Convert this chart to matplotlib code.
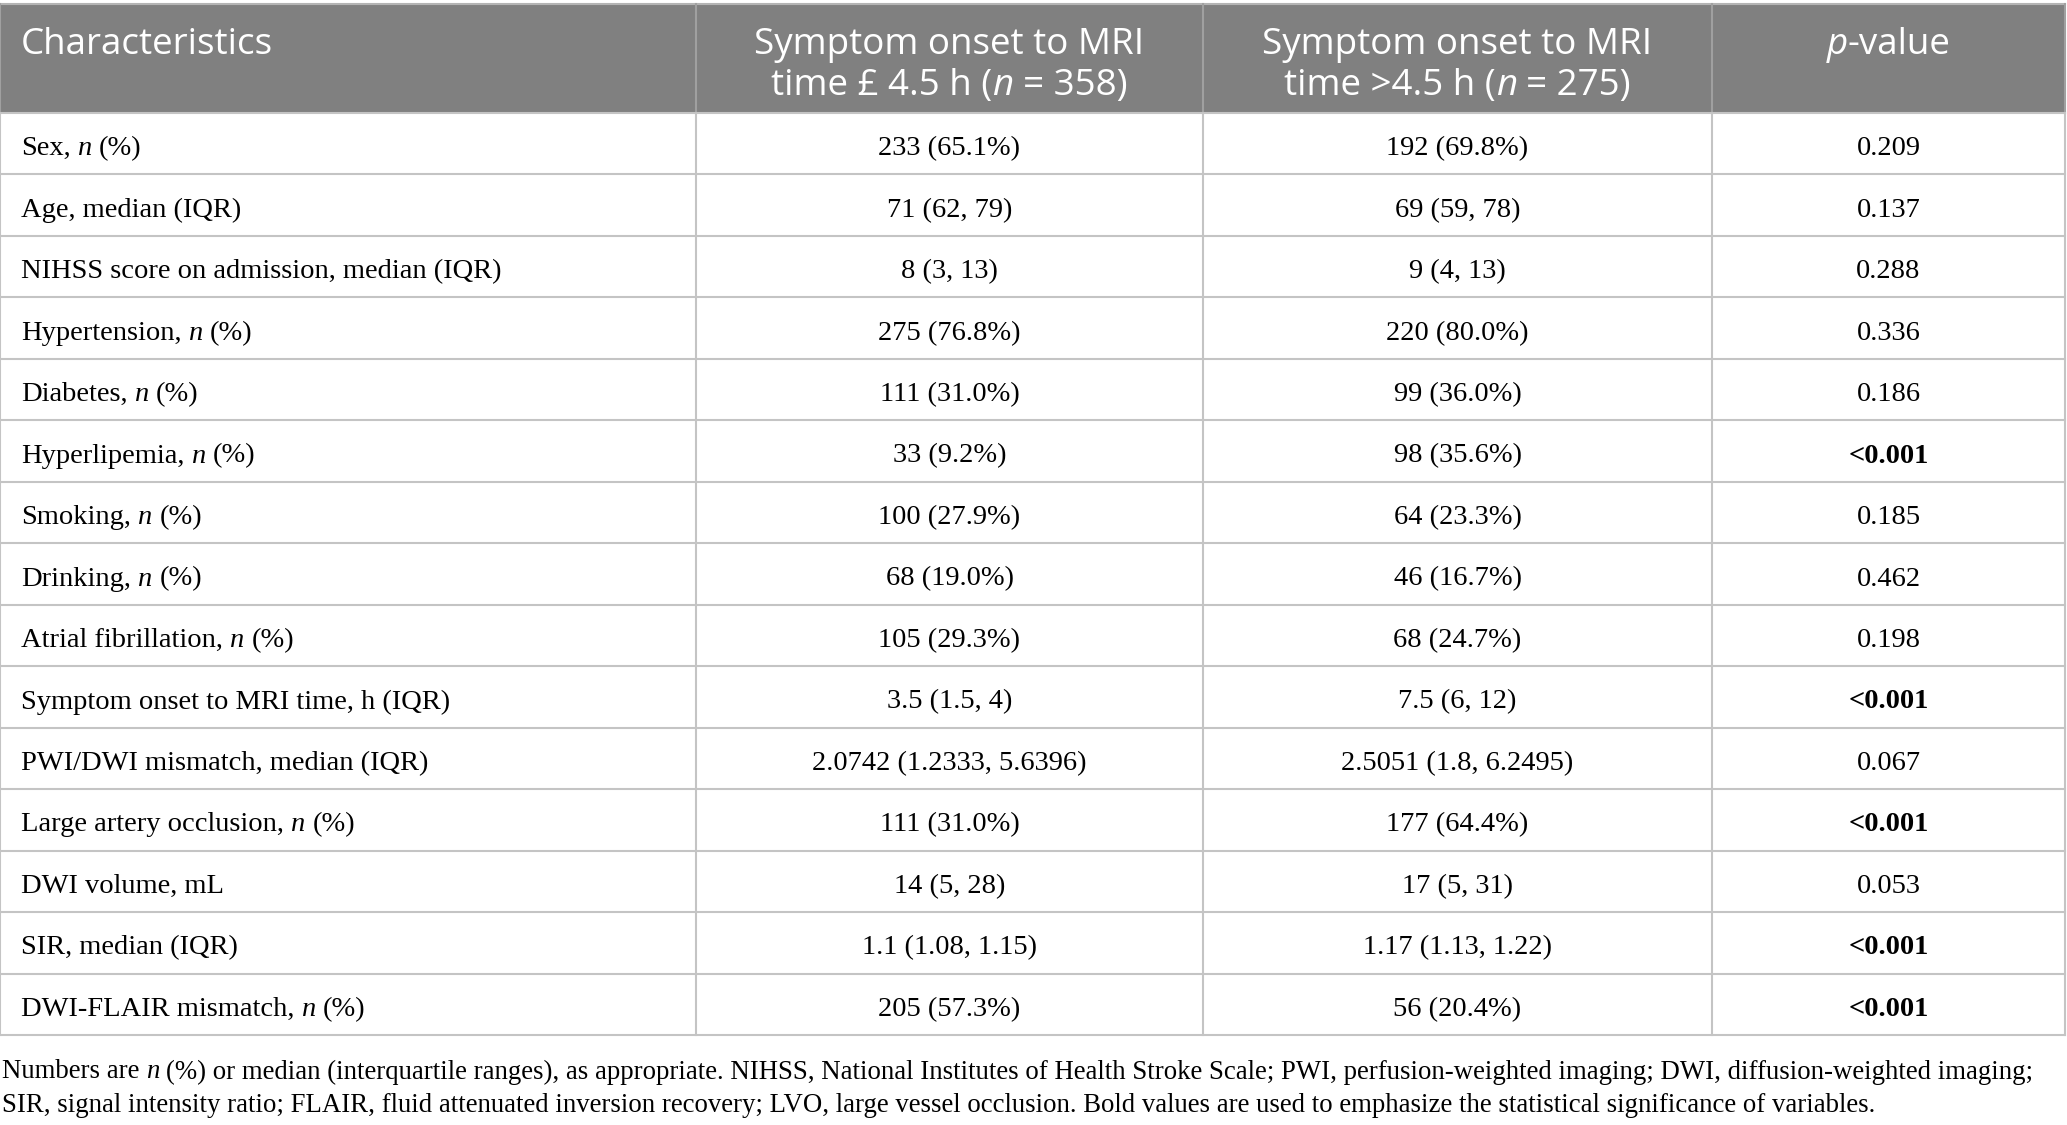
import matplotlib
matplotlib.use("Agg")
import matplotlib.pyplot as plt
from matplotlib.patches import Rectangle

# table content (italic parts marked with *)
characteristics = [
    "Sex, *n* (%)",
    "Age, median (IQR)",
    "NIHSS score on admission, median (IQR)",
    "Hypertension, *n* (%)",
    "Diabetes, *n* (%)",
    "Hyperlipemia, *n* (%)",
    "Smoking, *n* (%)",
    "Drinking, *n* (%)",
    "Atrial fibrillation, *n* (%)",
    "Symptom onset to MRI time, h (IQR)",
    "PWI/DWI mismatch, median (IQR)",
    "Large artery occlusion, *n* (%)",
    "DWI volume, mL",
    "SIR, median (IQR)",
    "DWI-FLAIR mismatch, *n* (%)",
]
within_45h = [
    "233 (65.1%)", "71 (62, 79)", "8 (3, 13)", "275 (76.8%)", "111 (31.0%)",
    "33 (9.2%)", "100 (27.9%)", "68 (19.0%)", "105 (29.3%)", "3.5 (1.5, 4)",
    "2.0742 (1.2333, 5.6396)", "111 (31.0%)", "14 (5, 28)", "1.1 (1.08, 1.15)",
    "205 (57.3%)",
]
beyond_45h = [
    "192 (69.8%)", "69 (59, 78)", "9 (4, 13)", "220 (80.0%)", "99 (36.0%)",
    "98 (35.6%)", "64 (23.3%)", "46 (16.7%)", "68 (24.7%)", "7.5 (6, 12)",
    "2.5051 (1.8, 6.2495)", "177 (64.4%)", "17 (5, 31)", "1.17 (1.13, 1.22)",
    "56 (20.4%)",
]
p_values = [
    "0.209", "0.137", "0.288", "0.336", "0.186", "<0.001", "0.185", "0.462",
    "0.198", "<0.001", "0.067", "<0.001", "0.053", "<0.001", "<0.001",
]
headers = [
    ["Characteristics"],
    ["Symptom onset to MRI", "time £ 4.5 h (*n* = 358)"],
    ["Symptom onset to MRI", "time >4.5 h (*n* = 275)"],
    ["*p*-value"],
]
footnote = [
    "Numbers are *n* (%) or median (interquartile ranges), as appropriate. NIHSS, National Institutes of Health Stroke Scale; PWI, perfusion-weighted imaging; DWI, diffusion-weighted imaging;",
    "SIR, signal intensity ratio; FLAIR, fluid attenuated inversion recovery; LVO, large vessel occlusion. Bold values are used to emphasize the statistical significance of variables.",
]

W, H = 2067, 1125
fig = plt.figure(figsize=(W / 100, H / 100), dpi=100)
ax = fig.add_axes([0, 0, 1, 1])
ax.set_xlim(0, W)
ax.set_ylim(H, 0)
ax.axis("off")
renderer = fig.canvas.get_renderer()

SERIF = "Liberation Serif"
SANS = "Open Sans"
body_size = 20.5
head_size = 26.5
foot_size = 19.3


def text_width(s, **kw):
    t = ax.text(0, 0, s, **kw)
    w = t.get_window_extent(renderer).width
    t.remove()
    return w


def rich(x, y, marked, ha="left", family=SERIF, size=body_size, color="black", weight="normal"):
    pieces = marked.split("*")
    space = text_width("x x", family=family, size=size) - text_width("xx", family=family, size=size)
    items = []
    for i, p in enumerate(pieces):
        if p == "":
            continue
        style = "italic" if i % 2 == 1 else "normal"
        lead = p.startswith(" ")
        trail = p.endswith(" ")
        t = ax.text(0, y, p.strip(), family=family, size=size, style=style,
                    weight=weight, color=color, va="center", ha="left")
        w = t.get_window_extent(renderer).width
        items.append((t, w, lead, trail))
    total = sum(w + space * (l + tr) for _, w, l, tr in items)
    pos = x if ha == "left" else x - total / 2
    for t, w, l, tr in items:
        pos += space * l
        t.set_x(pos)
        pos += w + space * tr


col_edges = [0, 696, 1203, 1712, 2065]
head_top, head_bot = 4, 113
n_rows = len(characteristics)
row_h = (1035 - head_bot) / n_rows

# header band
ax.add_patch(Rectangle((col_edges[0], head_top), col_edges[-1] - col_edges[0],
                       head_bot - head_top, facecolor="#808080", edgecolor="none"))
ax.plot([col_edges[0], col_edges[-1]], [head_top, head_top], color="#b4b4b4", lw=1.5)
for x in col_edges:
    ax.plot([x, x], [head_top, head_bot], color="#a0a0a0", lw=1.5)

# grid
for i in range(n_rows + 1):
    y = head_bot + i * row_h
    ax.plot([col_edges[0], col_edges[-1]], [y, y], color="#c4c4c4", lw=1.5)
for x in col_edges:
    ax.plot([x, x], [head_bot, head_bot + n_rows * row_h], color="#c4c4c4", lw=1.5)

# header text
centers = [(col_edges[i] + col_edges[i + 1]) / 2 for i in range(4)]
for j, lines in enumerate(headers):
    for k, line in enumerate(lines):
        y = 45 + k * 41
        if j == 0:
            rich(21, y, line, ha="left", family=SANS, size=head_size, color="white")
        else:
            rich(centers[j], y, line, ha="center", family=SANS, size=head_size, color="white")

# body
for i in range(n_rows):
    y = head_bot + (i + 0.5) * row_h + 5
    rich(21, y, characteristics[i])
    rich(centers[1], y, within_45h[i], ha="center")
    rich(centers[2], y, beyond_45h[i], ha="center")
    bold = p_values[i].startswith("<")
    rich(centers[3], y, p_values[i], ha="center", weight="bold" if bold else "normal")

# footnote
rich(2, 1072, footnote[0], size=foot_size)
rich(2, 1106, footnote[1], size=foot_size)

fig.savefig("out.png", dpi=100)
